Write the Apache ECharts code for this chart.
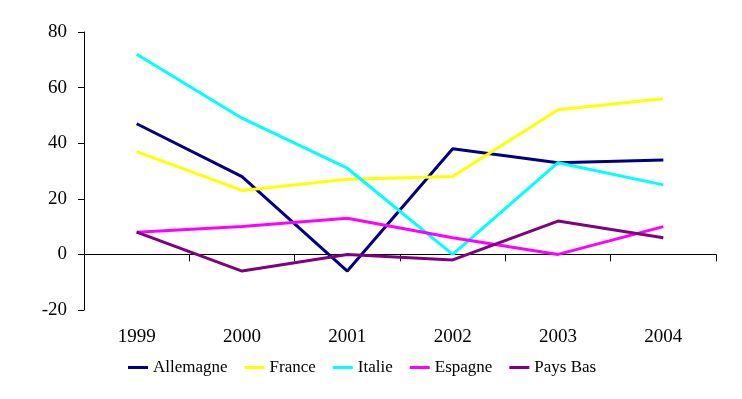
<!DOCTYPE html>
<html>
<head>
<meta charset="utf-8">
<script src="https://cdn.jsdelivr.net/npm/echarts@6/dist/echarts.min.js"></script>
<style>
  html, body { margin: 0; padding: 0; background: #fff; }
  #chart { width: 742px; height: 399px; }
</style>
</head>
<body>
<div id="chart"></div>
<script>
// Données
var annees = ['1999', '2000', '2001', '2002', '2003', '2004'];
var allemagne = [47, 28, -6, 38, 33, 34];
var france = [37, 23, 27, 28, 52, 56];
var italie = [72, 49, 31, 0, 33, 25];
var espagne = [8, 10, 13, 6, 0, 10];
var paysBas = [8, -6, 0, -2, 12, 6];
var yTicks = [-20, 0, 20, 40, 60, 80];

var police = '"Liberation Serif", "Times New Roman", serif';

function serie(nom, data, couleur) {
    return {
        name: nom,
        type: 'line',
        data: data,
        showSymbol: false,
        symbol: 'none',
        color: couleur,
        lineStyle: { color: couleur, width: 3 },
        xAxisIndex: 0
    };
}

var chart = echarts.init(document.getElementById('chart'));

var option = {
    animation: false,
    grid: { left: 84, right: 26, top: 32, bottom: 89 },
    xAxis: [{
        type: 'category',
        data: annees,
        boundaryGap: true,
        axisLine: { onZero: true, lineStyle: { color: '#000', width: 1 } },
        axisTick: { show: true, length: 7, lineStyle: { color: '#000' } },
        axisLabel: { show: false },
        splitLine: { show: false }
    }, {
        type: 'category',
        data: annees,
        position: 'bottom',
        boundaryGap: true,
        axisLine: { show: false, onZero: false },
        axisTick: { show: false },
        axisLabel: {
            margin: 18,
            color: '#000',
            fontFamily: police,
            fontSize: 19
        },
        splitLine: { show: false }
    }],
    yAxis: {
        type: 'value',
        min: yTicks[0],
        max: yTicks[yTicks.length - 1],
        interval: 20,
        axisLine: { show: true, lineStyle: { color: '#000', width: 1 } },
        axisTick: { show: true, length: 6, lineStyle: { color: '#000' } },
        axisLabel: {
            margin: 17,
            color: '#000',
            fontFamily: police,
            fontSize: 19
        },
        splitLine: { show: false }
    },
    legend: {
        top: 354,
        left: 123,
        icon: 'rect',
        itemWidth: 20,
        itemHeight: 3,
        itemGap: 17,
        textStyle: {
            color: '#000',
            fontFamily: police,
            fontSize: 17
        },
        data: ['Allemagne', 'France', 'Italie', 'Espagne', 'Pays Bas']
    },
    series: [
        serie('Allemagne', allemagne, '#000080'),
        serie('France', france, '#FFFF00'),
        serie('Italie', italie, '#00FFFF'),
        serie('Espagne', espagne, '#FF00FF'),
        serie('Pays Bas', paysBas, '#800080')
    ]
};

chart.setOption(option);
</script>
</body>
</html>
